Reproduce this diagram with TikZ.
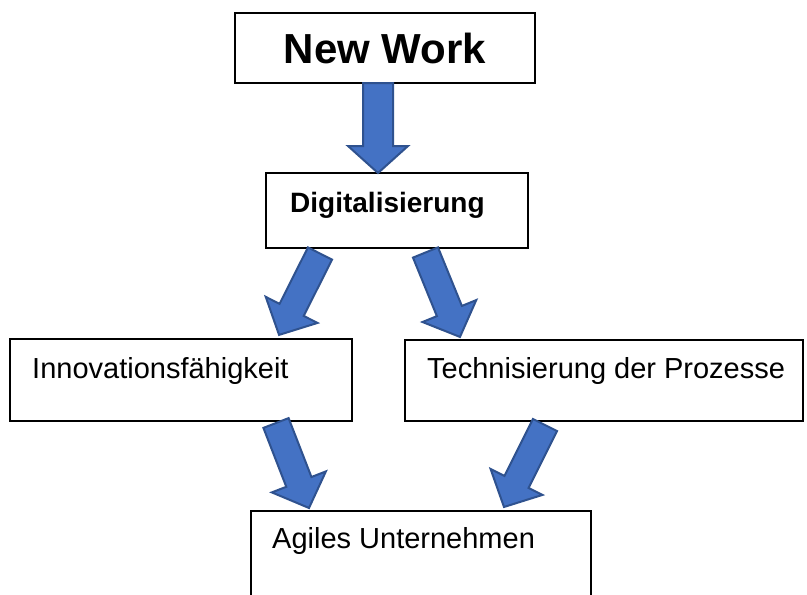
\documentclass[tikz,border=0pt]{standalone}
\usepackage{fontspec}
\setmainfont{Liberation Sans}
\usetikzlibrary{calc}
\definecolor{arrowfill}{HTML}{4472C4}
\definecolor{arrowline}{HTML}{2F528F}
\tikzset{
  box/.style={draw=black, line width=1.5pt, fill=white, rectangle, inner sep=0pt},
  lbl/.style={anchor=base west, inner sep=0pt, font=\fontsize{29}{34}\selectfont},
  blockarrow/.style={draw=arrowline, fill=arrowfill, line width=2pt, line join=miter},
}
% block arrow from tail centre #1 to tip #2; #3 shaft width, #4 head width, #5 head length
\newcommand\blockarrow[5]{%
  \path[blockarrow] let \p1=($(#2)-(#1)$), \n1={atan2(\y1,\x1)}, \n2={veclen(\x1,\y1)} in
    [shift={(#1)}, rotate=\n1]
    (0pt,{-#3/2}) -- ({\n2-#5},{-#3/2}) -- ({\n2-#5},{-#4/2}) -- (\n2,0pt)
    -- ({\n2-#5},{#4/2}) -- ({\n2-#5},{#3/2}) -- (0pt,{#3/2}) -- cycle;}
\begin{document}
\begin{tikzpicture}[x=1pt, y=-1pt]
  \useasboundingbox (0,0) rectangle (807,595);
  \clip (0,0) rectangle (807,595);
  \fill[white] (0,0) rectangle (807,595);

  % boxes
  \node[box, minimum width=300pt, minimum height=70pt] (nw) at (385,48) {};
  \node[box, minimum width=262pt, minimum height=75pt] (dig) at (397,210.5) {};
  \node[box, minimum width=342pt, minimum height=82pt] (inn) at (181,380) {};
  \node[box, minimum width=398pt, minimum height=81pt] (tech) at (604,380.5) {};
  \node[box, minimum width=340pt, minimum height=100pt] (agil) at (421,561) {};

  % labels
  \node[anchor=base, inner sep=0pt, font=\fontsize{42}{48}\selectfont\bfseries] (nwt) at (385,63) {New Work};
  \node[lbl, font=\fontsize{28}{33}\selectfont\bfseries] (digt) at (290,212) {Digitalisierung};
  \node[lbl] (innt) at (32,378) {Innovationsfähigkeit};
  \node[lbl] (techt) at (427,378) {Technisierung der Prozesse};
  \node[lbl] (agilt) at (272,548) {Agiles Unternehmen};

  % arrow end points
  \coordinate (a0s) at (378,83);    \coordinate (a0e) at (378,173);
  \coordinate (a1s) at (320,253.5); \coordinate (a1e) at (279,335);
  \coordinate (a2s) at (425.5,252.5); \coordinate (a2e) at (460,337);
  \coordinate (a3s) at (276,423);   \coordinate (a3e) at (309,508);
  \coordinate (a4s) at (545,425);   \coordinate (a4e) at (504,507);

  % block arrows
  \blockarrow{a0s}{a0e}{30pt}{60pt}{27pt}
  \blockarrow{a1s}{a1e}{27pt}{58pt}{28pt}
  \blockarrow{a2s}{a2e}{27pt}{58pt}{28pt}
  \blockarrow{a3s}{a3e}{27pt}{58pt}{28pt}
  \blockarrow{a4s}{a4e}{27pt}{58pt}{28pt}
\end{tikzpicture}
\end{document}
